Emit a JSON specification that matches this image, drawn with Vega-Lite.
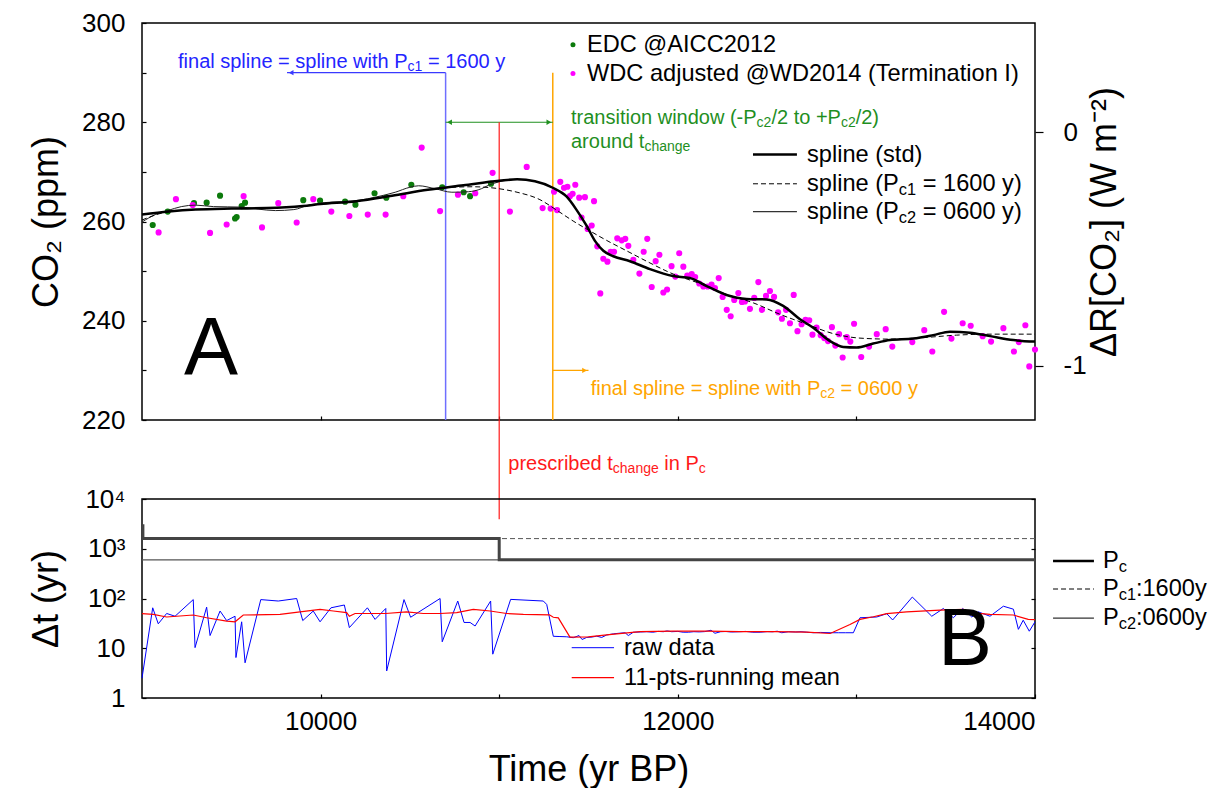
{
  "$schema": "https://vega.github.io/schema/vega-lite/v6.json",
  "background": "white",
  "padding": {"left": 27, "top": 9, "right": 0, "bottom": 0},
  "bounds": "flush",
  "spacing": 79,
  "config": {
    "font": "Liberation Sans",
    "view": {"stroke": "black", "strokeWidth": 1.5},
    "axis": {"labelFont": "Liberation Sans", "titleFont": "Liberation Sans", "labelColor": "black", "titleColor": "black", "tickColor": "black", "domain": false, "grid": false, "labelFontSize": 26, "titleFontSize": 36, "titleFontWeight": "normal", "tickWidth": 1.2},
    "text": {"font": "Liberation Sans"}
  },
  "datasets": {
    "edc": [
      {"t":9060,"v":259.3},{"t":9144,"v":262.0},{"t":9291,"v":263.7},{"t":9362,"v":263.8},{"t":9437,"v":265.2},{"t":9521,"v":260.6},{"t":9530,"v":260.9},{"t":9558,"v":263.1},{"t":9577,"v":263.8},{"t":9903,"v":264.3},{"t":9997,"v":264.2},{"t":10137,"v":264.0},{"t":10195,"v":263.4},{"t":10302,"v":265.7},{"t":10368,"v":264.8},{"t":10508,"v":267.4},{"t":10681,"v":266.9},{"t":10801,"v":265.9},{"t":10837,"v":265.1},{"t":10954,"v":267.6}
    ],
    "wdc": [
      {"t":9093,"v":257.8},{"t":9190,"v":264.5},{"t":9284,"v":263.3},{"t":9381,"v":257.7},{"t":9474,"v":259.4},{"t":9569,"v":265.1},{"t":9672,"v":258.8},{"t":9763,"v":263.7},{"t":9866,"v":259.8},{"t":9959,"v":264.5},{"t":10060,"v":262.0},{"t":10161,"v":261.1},{"t":10264,"v":261.4},{"t":10364,"v":261.4},{"t":10463,"v":265.1},{"t":10566,"v":274.9},{"t":10669,"v":262.1},{"t":10769,"v":265.4},{"t":10866,"v":265.7},{"t":10963,"v":269.8},{"t":11060,"v":262.0},{"t":11154,"v":271.0},{"t":11243,"v":262.7},{"t":11288,"v":262.6},{"t":11307,"v":266.0},{"t":11324,"v":262.3},{"t":11342,"v":268.0},{"t":11363,"v":266.8},{"t":11382,"v":267.0},{"t":11396,"v":265.1},{"t":11411,"v":265.6},{"t":11426,"v":267.4},{"t":11448,"v":264.8},{"t":11461,"v":260.8},{"t":11480,"v":264.9},{"t":11495,"v":258.5},{"t":11518,"v":259.2},{"t":11531,"v":264.1},{"t":11549,"v":255.0},{"t":11566,"v":245.5},{"t":11583,"v":252.5},{"t":11606,"v":251.9},{"t":11624,"v":253.9},{"t":11643,"v":253.9},{"t":11661,"v":256.6},{"t":11686,"v":256.2},{"t":11706,"v":256.5},{"t":11723,"v":255.1},{"t":11751,"v":252.3},{"t":11785,"v":249.5},{"t":11809,"v":253.9},{"t":11829,"v":256.5},{"t":11854,"v":246.8},{"t":11876,"v":252.0},{"t":11897,"v":253.3},{"t":11919,"v":245.7},{"t":11940,"v":246.3},{"t":11965,"v":251.0},{"t":11986,"v":248.9},{"t":12008,"v":253.6},{"t":12031,"v":250.9},{"t":12053,"v":249.1},{"t":12078,"v":249.4},{"t":12097,"v":248.8},{"t":12120,"v":247.5},{"t":12143,"v":246.9},{"t":12167,"v":246.9},{"t":12189,"v":247.3},{"t":12208,"v":246.6},{"t":12229,"v":248.6},{"t":12251,"v":244.8},{"t":12274,"v":242.2},{"t":12296,"v":240.9},{"t":12316,"v":244.2},{"t":12339,"v":245.6},{"t":12359,"v":243.8},{"t":12376,"v":243.9},{"t":12404,"v":242.4},{"t":12428,"v":244.6},{"t":12451,"v":247.8},{"t":12471,"v":242.2},{"t":12494,"v":245.0},{"t":12516,"v":246.0},{"t":12539,"v":244.8},{"t":12562,"v":241.7},{"t":12583,"v":240.4},{"t":12606,"v":242.2},{"t":12628,"v":239.5},{"t":12649,"v":245.2},{"t":12670,"v":237.9},{"t":12693,"v":239.3},{"t":12715,"v":240.2},{"t":12736,"v":240.1},{"t":12754,"v":237.2},{"t":12777,"v":238.6},{"t":12800,"v":237.1},{"t":12820,"v":236.5},{"t":12841,"v":235.9},{"t":12863,"v":238.7},{"t":12882,"v":235.0},{"t":12903,"v":237.3},{"t":12923,"v":232.6},{"t":12946,"v":236.7},{"t":12966,"v":235.8},{"t":12987,"v":239.4},{"t":13027,"v":232.7},{"t":13071,"v":234.8},{"t":13114,"v":237.3},{"t":13164,"v":238.3},{"t":13201,"v":234.8},{"t":13313,"v":235.7},{"t":13380,"v":238.1},{"t":13425,"v":233.8},{"t":13491,"v":241.8},{"t":13532,"v":236.4},{"t":13595,"v":239.5},{"t":13640,"v":239.0},{"t":13707,"v":236.9},{"t":13754,"v":235.8},{"t":13823,"v":238.5},{"t":13882,"v":233.8},{"t":13909,"v":235.7},{"t":13946,"v":239.1},{"t":13968,"v":230.8},{"t":14000,"v":234.2}
    ],
    "spline_std": [
      {"t":9000,"v":261.4},{"t":9150,"v":262.0},{"t":9300,"v":262.4},{"t":9500,"v":262.6},{"t":9700,"v":262.7},{"t":9900,"v":263.1},{"t":10000,"v":263.5},{"t":10200,"v":264.1},{"t":10400,"v":265.2},{"t":10600,"v":266.4},{"t":10800,"v":267.3},{"t":11000,"v":268.2},{"t":11100,"v":268.5},{"t":11200,"v":268.1},{"t":11300,"v":266.8},{"t":11378,"v":265.0},{"t":11434,"v":262.3},{"t":11490,"v":259.1},{"t":11536,"v":256.1},{"t":11583,"v":254.1},{"t":11639,"v":253.0},{"t":11732,"v":252.0},{"t":11844,"v":250.4},{"t":11974,"v":249.0},{"t":12068,"v":248.6},{"t":12161,"v":247.0},{"t":12273,"v":245.2},{"t":12385,"v":244.4},{"t":12497,"v":244.3},{"t":12590,"v":243.0},{"t":12684,"v":240.3},{"t":12758,"v":238.6},{"t":12852,"v":235.9},{"t":12926,"v":234.7},{"t":13001,"v":234.6},{"t":13094,"v":235.4},{"t":13188,"v":236.1},{"t":13318,"v":236.4},{"t":13430,"v":237.1},{"t":13524,"v":237.8},{"t":13636,"v":237.6},{"t":13748,"v":236.9},{"t":13879,"v":236.1},{"t":14000,"v":235.8}
    ],
    "spline_pc1": [
      {"t":9000,"v":260.3},{"t":9150,"v":262.0},{"t":9300,"v":262.4},{"t":9500,"v":262.6},{"t":9700,"v":262.7},{"t":9900,"v":263.1},{"t":10000,"v":263.5},{"t":10200,"v":264.1},{"t":10400,"v":265.2},{"t":10600,"v":266.4},{"t":10700,"v":266.8},{"t":10850,"v":267.0},{"t":11000,"v":266.6},{"t":11100,"v":265.9},{"t":11228,"v":264.4},{"t":11321,"v":262.3},{"t":11414,"v":260.1},{"t":11508,"v":258.1},{"t":11601,"v":256.2},{"t":11713,"v":254.1},{"t":11825,"v":252.0},{"t":11975,"v":249.4},{"t":12124,"v":247.5},{"t":12274,"v":245.3},{"t":12423,"v":243.6},{"t":12572,"v":241.3},{"t":12722,"v":239.3},{"t":12871,"v":237.4},{"t":13020,"v":236.5},{"t":13188,"v":236.3},{"t":13374,"v":236.6},{"t":13561,"v":237.1},{"t":13748,"v":237.3},{"t":14000,"v":237.3}
    ],
    "spline_pc2": [
      {"t":9000,"v":259.9},{"t":9075,"v":261.4},{"t":9144,"v":262.2},{"t":9220,"v":263.0},{"t":9300,"v":263.3},{"t":9400,"v":263.0},{"t":9560,"v":262.9},{"t":9650,"v":262.5},{"t":9747,"v":262.2},{"t":9850,"v":262.4},{"t":9933,"v":263.3},{"t":10020,"v":263.8},{"t":10119,"v":264.0},{"t":10220,"v":264.3},{"t":10306,"v":264.9},{"t":10418,"v":265.9},{"t":10500,"v":266.9},{"t":10549,"v":267.2},{"t":10642,"v":266.6},{"t":10735,"v":265.9},{"t":10828,"v":266.0},{"t":10900,"v":266.6},{"t":10940,"v":267.3},{"t":11000,"v":268.0},{"t":11100,"v":268.5},{"t":11200,"v":268.1},{"t":11300,"v":266.8},{"t":11378,"v":265.0},{"t":11434,"v":262.3},{"t":11490,"v":259.1},{"t":11536,"v":256.1},{"t":11583,"v":254.1},{"t":11639,"v":253.0},{"t":11732,"v":252.0},{"t":11844,"v":250.4},{"t":11974,"v":249.0},{"t":12068,"v":248.6},{"t":12161,"v":247.0},{"t":12273,"v":245.2},{"t":12385,"v":244.4},{"t":12497,"v":244.3},{"t":12590,"v":243.0},{"t":12684,"v":240.3},{"t":12758,"v":238.6},{"t":12852,"v":235.9},{"t":12926,"v":234.7},{"t":13001,"v":234.6},{"t":13094,"v":235.4},{"t":13188,"v":236.1},{"t":13318,"v":236.4},{"t":13430,"v":237.1},{"t":13524,"v":237.8},{"t":13636,"v":237.6},{"t":13748,"v":236.9},{"t":13879,"v":236.1},{"t":14000,"v":235.8}
    ],
    "notes": [
      {"t":9201.6,"v":292.2,"text":"final spline = spline with P","grp":"pc1","part":"main"},
      {"t":10486.6,"v":292.2,"text":"c1","grp":"pc1","part":"sub"},
      {"t":10600.8,"v":292.2,"text":"= 1600 y","grp":"pc1","part":"main"},
      {"t":11512.3,"v":226.2,"text":"final spline = spline with P","grp":"pc2","part":"main"},
      {"t":12797.3,"v":226.2,"text":"c2","grp":"pc2","part":"sub"},
      {"t":12911.5,"v":226.2,"text":"= 0600 y","grp":"pc2","part":"main"},
      {"t":11402.0,"v":280.9,"text":"transition window (-P","grp":"window","part":"main"},
      {"t":12441.3,"v":280.9,"text":"c2","grp":"window","part":"sub"},
      {"t":12524.2,"v":280.9,"text":"/2 to +P","grp":"window","part":"main"},
      {"t":12913.6,"v":280.9,"text":"c2","grp":"window","part":"sub"},
      {"t":12996.0,"v":280.9,"text":"/2)","grp":"window","part":"main"},
      {"t":11402.0,"v":276.1,"text":"around t","grp":"window","part":"main"},
      {"t":11813.0,"v":276.1,"text":"change","grp":"window","part":"sub"},
      {"t":11051.0,"v":211.1,"text":"prescribed t","grp":"tchange","part":"main"},
      {"t":11636.1,"v":211.1,"text":"change","grp":"tchange","part":"sub"},
      {"t":11924.5,"v":211.1,"text":"in P","grp":"tchange","part":"main"},
      {"t":12117.7,"v":211.1,"text":"c","grp":"tchange","part":"sub"}
    ],
    "legend_top": [
      {"t":11491.6,"v":295.6,"text":"EDC @AICC2012","part":"main"},
      {"t":11491.6,"v":289.8,"text":"WDC adjusted @WD2014 (Termination I)","part":"main"},
      {"t":12723.4,"v":273.5,"text":"spline (std)","part":"main"},
      {"t":12723.4,"v":267.6,"text":"spline (P","part":"main"},
      {"t":13237.4,"v":267.6,"text":"c1","part":"sub"},
      {"t":13371.3,"v":267.6,"text":"= 1600 y)","part":"main"},
      {"t":12723.4,"v":262.0,"text":"spline (P","part":"main"},
      {"t":13237.4,"v":262.0,"text":"c2","part":"sub"},
      {"t":13371.3,"v":262.0,"text":"= 0600 y)","part":"main"}
    ],
    "raw": [
      {"t":9000,"v":2.5},{"t":9060,"v":65},{"t":9091,"v":31},{"t":9138,"v":50},{"t":9185,"v":44},{"t":9287,"v":95},{"t":9297,"v":10.3},{"t":9362,"v":67},{"t":9381,"v":18},{"t":9437,"v":56},{"t":9474,"v":36},{"t":9521,"v":44},{"t":9526,"v":6.5},{"t":9558,"v":34},{"t":9577,"v":5.1},{"t":9665,"v":95},{"t":9763,"v":89},{"t":9866,"v":100},{"t":9900,"v":36},{"t":9959,"v":56},{"t":9997,"v":34},{"t":10058,"v":65},{"t":10133,"v":74},{"t":10161,"v":26},{"t":10262,"v":65},{"t":10305,"v":38},{"t":10365,"v":63},{"t":10370,"v":3.5},{"t":10467,"v":95},{"t":10504,"v":42},{"t":10669,"v":100},{"t":10681,"v":13.5},{"t":10768,"v":89},{"t":10803,"v":33},{"t":10837,"v":33},{"t":10865,"v":28},{"t":10952,"v":89},{"t":10964,"v":7.6},{"t":11064,"v":96},{"t":11247,"v":89},{"t":11266,"v":76},{"t":11303,"v":17.4},{"t":11340,"v":17.2},{"t":11378,"v":17},{"t":11415,"v":16.3},{"t":11447,"v":18},{"t":11464,"v":15},{"t":11490,"v":16.5},{"t":11520,"v":16.8},{"t":11546,"v":17.5},{"t":11574,"v":16.5},{"t":11602,"v":18.5},{"t":11640,"v":19.5},{"t":11670,"v":20},{"t":11705,"v":20.5},{"t":11723,"v":18},{"t":11751,"v":21},{"t":11790,"v":21.2},{"t":11826,"v":21.5},{"t":11860,"v":21},{"t":11890,"v":21.8},{"t":11919,"v":21.5},{"t":11940,"v":22.3},{"t":11966,"v":21.5},{"t":12000,"v":21.8},{"t":12030,"v":21},{"t":12059,"v":21},{"t":12090,"v":21.5},{"t":12120,"v":21.3},{"t":12150,"v":21.6},{"t":12186,"v":23},{"t":12208,"v":20},{"t":12240,"v":21.5},{"t":12270,"v":21.7},{"t":12300,"v":21.2},{"t":12349,"v":21.5},{"t":12380,"v":21.8},{"t":12420,"v":21},{"t":12461,"v":21},{"t":12500,"v":21.6},{"t":12530,"v":21.4},{"t":12557,"v":22},{"t":12582,"v":20.5},{"t":12619,"v":21.5},{"t":12660,"v":21.2},{"t":12690,"v":21.5},{"t":12722,"v":21},{"t":12759,"v":20.5},{"t":12800,"v":20.8},{"t":12853,"v":20.5},{"t":12900,"v":20.5},{"t":12940,"v":20.5},{"t":12983,"v":20.5},{"t":13020,"v":41},{"t":13114,"v":42.5},{"t":13170,"v":49.5},{"t":13203,"v":37},{"t":13313,"v":107},{"t":13422,"v":44},{"t":13487,"v":63},{"t":13543,"v":41},{"t":13595,"v":63},{"t":13646,"v":42.5},{"t":13682,"v":54},{"t":13748,"v":44},{"t":13823,"v":70},{"t":13879,"v":61},{"t":13907,"v":24},{"t":13934,"v":36.6},{"t":13968,"v":22},{"t":14000,"v":34}
    ],
    "mean": [
      {"t":9000,"v":49.5},{"t":9063,"v":48},{"t":9138,"v":42.5},{"t":9287,"v":46.6},{"t":9362,"v":41},{"t":9474,"v":35},{"t":9521,"v":34},{"t":9567,"v":46.6},{"t":9773,"v":48},{"t":9885,"v":54},{"t":9997,"v":60.6},{"t":10071,"v":56},{"t":10146,"v":52},{"t":10161,"v":44},{"t":10193,"v":50},{"t":10295,"v":50},{"t":10364,"v":50},{"t":10482,"v":54},{"t":10575,"v":50},{"t":10669,"v":50},{"t":10762,"v":52},{"t":10855,"v":60.6},{"t":10949,"v":56},{"t":11042,"v":50},{"t":11135,"v":48},{"t":11281,"v":47},{"t":11303,"v":42},{"t":11331,"v":40.7},{"t":11396,"v":16.8},{"t":11499,"v":17},{"t":11602,"v":18.5},{"t":11788,"v":21.5},{"t":11975,"v":22},{"t":12161,"v":22},{"t":12350,"v":21.5},{"t":12540,"v":21.5},{"t":12722,"v":21},{"t":12853,"v":19.8},{"t":12964,"v":30},{"t":13020,"v":38},{"t":13095,"v":43},{"t":13170,"v":49.5},{"t":13281,"v":54},{"t":13468,"v":58.5},{"t":13599,"v":60.6},{"t":13655,"v":51.5},{"t":13748,"v":48},{"t":13879,"v":46.6},{"t":13962,"v":38},{"t":14000,"v":37.6}
    ],
    "pc": [
      {"t":9000,"v":2900},{"t":9005,"v":1600},{"t":11000,"v":600},{"t":14000,"v":600}
    ],
    "legend_bot": [
      {"t":11698.8,"v":10.26,"text":"raw data","part":"main"},
      {"t":11698.8,"v":2.56,"text":"11-pts-running mean","part":"main"},
      {"t":14380.7,"v":567.5,"text":"P","part":"main"},
      {"t":14468.7,"v":567.5,"text":"c","part":"sub"},
      {"t":14380.7,"v":155.2,"text":"P","part":"main"},
      {"t":14468.7,"v":155.2,"text":"c1","part":"sub"},
      {"t":14565.0,"v":155.2,"text":":1600y","part":"main"},
      {"t":14380.7,"v":40.5,"text":"P","part":"main"},
      {"t":14468.7,"v":40.5,"text":"c2","part":"sub"},
      {"t":14565.0,"v":40.5,"text":":0600y","part":"main"}
    ]
  },
  "vconcat": [
    {
      "width": 893,
      "height": 397,
      "resolve": {"scale": {"y": "independent"}},
      "layer": [
        {
          "encoding": {
            "x": {"field": "t", "type": "quantitative", "scale": {"domain": [9000, 14000], "nice": false, "zero": false},
                  "axis": {"values": [10000, 11000, 12000, 13000], "labels": false, "tickSize": -4, "title": null}},
            "y": {"field": "v", "type": "quantitative", "scale": {"domain": [220, 300], "nice": false, "zero": false},
                  "axis": {"values": [220, 230, 240, 250, 260, 270, 280, 290, 300], "labelExpr": "datum.value % 20 === 0 ? datum.label : ''", "tickSize": -4, "labelPadding": 21, "title": "CO₂ (ppm)", "titleX": -96, "titleBaseline": "middle"}}
          },
          "layer": [
            {"data": {"values": [{"t": 10700, "v": 220, "v2": 290}]}, "mark": {"type": "rule", "color": "#6f6fff", "strokeWidth": 1.5}, "encoding": {"y2": {"field": "v2"}}},
            {"data": {"values": [{"t": 9812, "t2": 10700, "v": 290}]}, "mark": {"type": "rule", "color": "#3a3aff", "strokeWidth": 1.2}, "encoding": {"x2": {"field": "t2"}}},
            {"data": {"values": [{"t": 9835, "v": 290}]}, "mark": {"type": "point", "shape": "triangle-left", "filled": true, "color": "#3a3aff", "size": 30, "opacity": 1}},
            {"data": {"values": [{"t": 11300, "v": 220, "v2": 290}]}, "mark": {"type": "rule", "color": "#ffa500", "strokeWidth": 1.5}, "encoding": {"y2": {"field": "v2"}}},
            {"data": {"values": [{"t": 11300, "t2": 11500, "v": 230}]}, "mark": {"type": "rule", "color": "#ffa500", "strokeWidth": 1.2}, "encoding": {"x2": {"field": "t2"}}},
            {"data": {"values": [{"t": 11478, "v": 230}]}, "mark": {"type": "point", "shape": "triangle-right", "filled": true, "color": "#ffa500", "size": 30, "opacity": 1}},
            {"data": {"values": [{"t": 10700, "t2": 11300, "v": 280}]}, "mark": {"type": "rule", "color": "#1f8f1f", "strokeWidth": 1.2}, "encoding": {"x2": {"field": "t2"}}},
            {"data": {"values": [{"t": 10722, "v": 280}]}, "mark": {"type": "point", "shape": "triangle-left", "filled": true, "color": "#1f8f1f", "size": 30, "opacity": 1}},
            {"data": {"values": [{"t": 11278, "v": 280}]}, "mark": {"type": "point", "shape": "triangle-right", "filled": true, "color": "#1f8f1f", "size": 30, "opacity": 1}},
            {"data": {"values": [{"t": 11000, "v": 280, "v2": 200}]}, "mark": {"type": "rule", "color": "#ff1a1a", "strokeWidth": 1.2}, "encoding": {"y2": {"field": "v2"}}},
            {"data": {"name": "edc"}, "mark": {"type": "circle", "color": "#0c7a0c", "size": 38, "opacity": 1}},
            {"data": {"name": "wdc"}, "mark": {"type": "circle", "color": "#ff00ff", "size": 38, "opacity": 1}},
            {"data": {"name": "spline_pc2"}, "mark": {"type": "line", "interpolate": "monotone", "color": "#222222", "strokeWidth": 1}},
            {"data": {"name": "spline_pc1"}, "mark": {"type": "line", "interpolate": "monotone", "color": "#000000", "strokeWidth": 1, "strokeDash": [5, 3]}},
            {"data": {"name": "spline_std"}, "mark": {"type": "line", "interpolate": "monotone", "color": "#000000", "strokeWidth": 2.5}},
            {"data": {"values": [{"t": 11413, "v": 295.6}]}, "mark": {"type": "circle", "color": "#0c7a0c", "size": 25, "opacity": 1}},
            {"data": {"values": [{"t": 11413, "v": 289.8}]}, "mark": {"type": "circle", "color": "#ff00ff", "size": 25, "opacity": 1}},
            {"data": {"values": [{"t": 12421, "t2": 12667, "v": 273.5}]}, "mark": {"type": "rule", "color": "#000000", "strokeWidth": 2.5}, "encoding": {"x2": {"field": "t2"}}},
            {"data": {"values": [{"t": 12421, "t2": 12667, "v": 267.6}]}, "mark": {"type": "rule", "color": "#000000", "strokeWidth": 1, "strokeDash": [5, 3]}, "encoding": {"x2": {"field": "t2"}}},
            {"data": {"values": [{"t": 12421, "t2": 12667, "v": 262.0}]}, "mark": {"type": "rule", "color": "#333333", "strokeWidth": 1.2}, "encoding": {"x2": {"field": "t2"}}},
            {"data": {"name": "notes"}, "transform": [{"filter": "datum.part === 'main'"}], "mark": {"type": "text", "align": "left", "baseline": "middle", "fontSize": 20},
             "encoding": {"text": {"field": "text"}, "color": {"field": "grp", "type": "nominal", "legend": null, "scale": {"domain": ["pc1", "pc2", "window", "tchange"], "range": ["#2424ff", "#ffa500", "#1f8f1f", "#ff1a1a"]}}}},
            {"data": {"name": "notes"}, "transform": [{"filter": "datum.part === 'sub'"}], "mark": {"type": "text", "align": "left", "baseline": "middle", "fontSize": 14, "dy": 5},
             "encoding": {"text": {"field": "text"}, "color": {"field": "grp", "type": "nominal", "legend": null}}},
            {"data": {"name": "legend_top"}, "transform": [{"filter": "datum.part === 'main'"}], "mark": {"type": "text", "align": "left", "baseline": "middle", "fontSize": 23.6, "color": "black"}, "encoding": {"text": {"field": "text"}}},
            {"data": {"name": "legend_top"}, "transform": [{"filter": "datum.part === 'sub'"}], "mark": {"type": "text", "align": "left", "baseline": "middle", "fontSize": 16.4, "dy": 6, "color": "black"}, "encoding": {"text": {"field": "text"}}},
            {"data": {"values": [{"t": 9386, "v": 234.1, "text": "A"}]}, "mark": {"type": "text", "align": "center", "baseline": "middle", "fontSize": 81, "color": "black"}, "encoding": {"text": {"field": "text"}}}
          ]
        },
        {
          "data": {"values": [{"v": 250}]},
          "mark": {"type": "point", "opacity": 0},
          "encoding": {
            "y": {"field": "v", "type": "quantitative", "scale": {"domain": [220, 300], "nice": false, "zero": false},
                  "axis": {"orient": "right", "values": [230.9, 278.0], "labelExpr": "datum.value > 250 ? '0' : '-1'", "tickSize": 8, "labelPadding": 20, "title": "ΔR[CO₂] (W m⁻²)", "titleAngle": -90, "titleX": 69, "titleBaseline": "middle"}}
          }
        }
      ]
    },
    {
      "width": 893,
      "height": 199,
      "resolve": {"scale": {"y": "independent"}},
      "layer": [
        {
          "encoding": {
            "x": {"field": "t", "type": "quantitative", "scale": {"domain": [9000, 14000], "nice": false, "zero": false},
                  "axis": {"values": [10000, 11000, 12000, 13000, 14000], "format": "d", "labelExpr": "datum.value % 2000 === 0 ? datum.label : ''", "tickSize": -4, "labelPadding": 14, "title": "Time (yr BP)", "titleY": 71, "titleBaseline": "middle"}},
            "y": {"field": "v", "type": "quantitative", "scale": {"type": "log", "domain": [1, 10000], "nice": false},
                  "axis": {"values": [1, 10, 100, 1000, 10000], "labelExpr": "datum.value === 1 ? '1' : datum.value === 10 ? '10' : datum.value === 100 ? '10²' : datum.value === 1000 ? '10³' : '10⁴'", "tickSize": -4, "labelPadding": 21, "title": "Δt (yr)", "titleX": -96, "titleBaseline": "middle"}}
          },
          "layer": [
            {"data": {"values": [{"t": 9000, "t2": 14000, "v": 600}]}, "mark": {"type": "rule", "color": "#555555", "strokeWidth": 1.2}, "encoding": {"x2": {"field": "t2"}}},
            {"data": {"values": [{"t": 9000, "t2": 14000, "v": 1600}]}, "mark": {"type": "rule", "color": "#555555", "strokeWidth": 1, "strokeDash": [5, 3]}, "encoding": {"x2": {"field": "t2"}}},
            {"data": {"name": "pc"}, "mark": {"type": "line", "interpolate": "step-after", "color": "#444444", "strokeWidth": 3}},
            {"data": {"name": "raw"}, "mark": {"type": "line", "color": "#0000ff", "strokeWidth": 1}},
            {"data": {"name": "mean"}, "mark": {"type": "line", "color": "#ff0000", "strokeWidth": 1.2}},
            {"data": {"values": [{"t": 11406, "t2": 11643, "v": 10.26}]}, "mark": {"type": "rule", "color": "#0000ff", "strokeWidth": 1}, "encoding": {"x2": {"field": "t2"}}},
            {"data": {"values": [{"t": 11406, "t2": 11643, "v": 2.56}]}, "mark": {"type": "rule", "color": "#ff0000", "strokeWidth": 1.2}, "encoding": {"x2": {"field": "t2"}}},
            {"data": {"values": [{"t": 14101, "t2": 14330, "v": 567.5}]}, "mark": {"type": "rule", "color": "#000000", "strokeWidth": 2.5}, "encoding": {"x2": {"field": "t2"}}},
            {"data": {"values": [{"t": 14101, "t2": 14330, "v": 155.2}]}, "mark": {"type": "rule", "color": "#000000", "strokeWidth": 1, "strokeDash": [5, 3]}, "encoding": {"x2": {"field": "t2"}}},
            {"data": {"values": [{"t": 14101, "t2": 14330, "v": 40.5}]}, "mark": {"type": "rule", "color": "#333333", "strokeWidth": 1.2}, "encoding": {"x2": {"field": "t2"}}},
            {"data": {"name": "legend_bot"}, "transform": [{"filter": "datum.part === 'main'"}], "mark": {"type": "text", "align": "left", "baseline": "middle", "fontSize": 23.6, "color": "black"}, "encoding": {"text": {"field": "text"}}},
            {"data": {"name": "legend_bot"}, "transform": [{"filter": "datum.part === 'sub'"}], "mark": {"type": "text", "align": "left", "baseline": "middle", "fontSize": 16.4, "dy": 6, "color": "black"}, "encoding": {"text": {"field": "text"}}},
            {"data": {"values": [{"t": 13608, "v": 14, "text": "B"}]}, "mark": {"type": "text", "align": "center", "baseline": "middle", "fontSize": 81, "color": "black"}, "encoding": {"text": {"field": "text"}}}
          ]
        },
        {
          "data": {"values": [{"v": 100}]},
          "mark": {"type": "point", "opacity": 0},
          "encoding": {
            "y": {"field": "v", "type": "quantitative", "scale": {"type": "log", "domain": [1, 10000], "nice": false},
                  "axis": {"orient": "right", "values": [1, 10, 100, 1000, 10000], "labels": false, "tickSize": -4, "title": null}}
          }
        }
      ]
    }
  ]
}
